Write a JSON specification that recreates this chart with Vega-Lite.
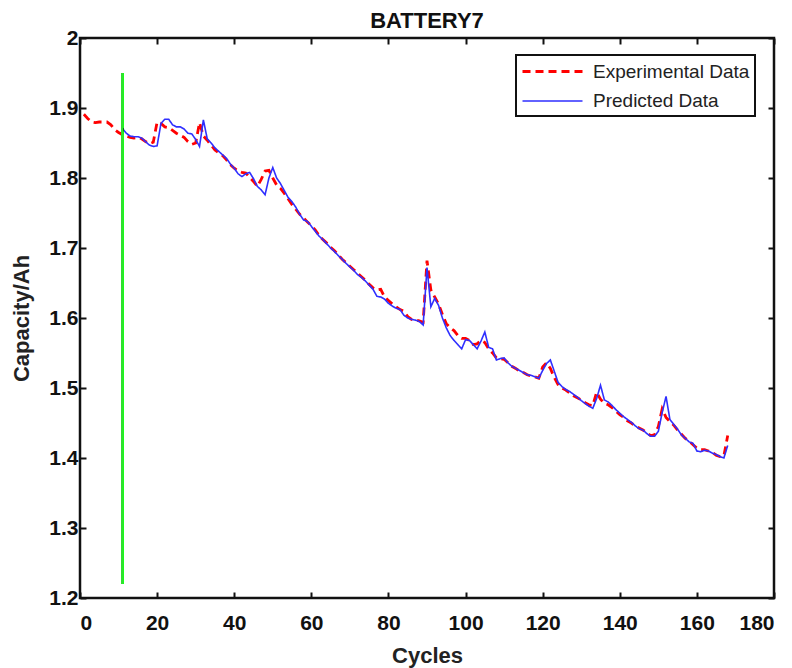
{
  "$schema": "https://vega.github.io/schema/vega-lite/v6.json",
  "width": 694,
  "height": 560,
  "autosize": {"type": "none"},
  "padding": {"left": 80, "top": 38, "right": 18, "bottom": 70},
  "background": "white",
  "title": {"text": "BATTERY7", "font": "Arial", "fontSize": 22, "fontWeight": "bold", "color": "#111", "anchor": "middle", "offset": -6},
  "config": {
    "view": {"stroke": "#111", "strokeWidth": 2.5},
    "legend": {"strokeColor": "#111", "strokeWidth": 2},
    "axis": {"grid": false, "domain": false, "labelFont": "Arial", "labelFontSize": 21, "labelFontWeight": "bold", "labelColor": "#111", "tickColor": "#111", "tickWidth": 2, "tickSize": -6, "titleFont": "Arial", "titleFontSize": 22, "titleFontWeight": "bold", "titleColor": "#222"}
  },
  "data": {"values": [
{"c":1,"exp":1.891},{"c":2,"exp":1.885},{"c":3,"exp":1.880},{"c":4,"exp":1.879},{"c":5,"exp":1.880},{"c":6,"exp":1.880},{"c":7,"exp":1.880},{"c":8,"exp":1.876},{"c":9,"exp":1.869},{"c":10,"exp":1.865},
{"c":11,"exp":1.862,"pred":1.871},{"c":12,"exp":1.860,"pred":1.864},{"c":13,"exp":1.858,"pred":1.860},{"c":14,"exp":1.857,"pred":1.859},{"c":15,"exp":1.858,"pred":1.859},{"c":16,"exp":1.856,"pred":1.857},{"c":17,"exp":1.852,"pred":1.852},{"c":18,"exp":1.849,"pred":1.847},{"c":19,"exp":1.851,"pred":1.845},{"c":20,"exp":1.880,"pred":1.846},
{"c":21,"exp":1.878,"pred":1.878},{"c":22,"exp":1.873,"pred":1.884},{"c":23,"exp":1.872,"pred":1.884},{"c":24,"exp":1.868,"pred":1.876},{"c":25,"exp":1.864,"pred":1.873},{"c":26,"exp":1.861,"pred":1.873},{"c":27,"exp":1.858,"pred":1.870},{"c":28,"exp":1.852,"pred":1.864},{"c":29,"exp":1.848,"pred":1.863},{"c":30,"exp":1.850,"pred":1.855},
{"c":31,"exp":1.879,"pred":1.845},{"c":32,"exp":1.860,"pred":1.883},{"c":33,"exp":1.854,"pred":1.856},{"c":34,"exp":1.847,"pred":1.850},{"c":35,"exp":1.840,"pred":1.843},{"c":36,"exp":1.836,"pred":1.838},{"c":37,"exp":1.832,"pred":1.833},{"c":38,"exp":1.826,"pred":1.828},{"c":39,"exp":1.819,"pred":1.820},{"c":40,"exp":1.814,"pred":1.814},
{"c":41,"exp":1.810,"pred":1.806},{"c":42,"exp":1.808,"pred":1.802},{"c":43,"exp":1.807,"pred":1.806},{"c":44,"exp":1.801,"pred":1.808},{"c":45,"exp":1.795,"pred":1.799},{"c":46,"exp":1.788,"pred":1.788},{"c":47,"exp":1.798,"pred":1.783},{"c":48,"exp":1.810,"pred":1.776},{"c":49,"exp":1.811,"pred":1.800},{"c":50,"exp":1.800,"pred":1.815},
{"c":51,"exp":1.790,"pred":1.800},{"c":52,"exp":1.785,"pred":1.792},{"c":53,"exp":1.778,"pred":1.782},{"c":54,"exp":1.770,"pred":1.772},{"c":55,"exp":1.762,"pred":1.766},{"c":56,"exp":1.755,"pred":1.758},{"c":57,"exp":1.748,"pred":1.748},{"c":58,"exp":1.743,"pred":1.740},{"c":59,"exp":1.737,"pred":1.738},{"c":60,"exp":1.732,"pred":1.731},
{"c":61,"exp":1.726,"pred":1.724},{"c":62,"exp":1.718,"pred":1.717},{"c":63,"exp":1.712,"pred":1.712},{"c":64,"exp":1.707,"pred":1.706},{"c":65,"exp":1.701,"pred":1.700},{"c":66,"exp":1.696,"pred":1.695},{"c":67,"exp":1.690,"pred":1.689},{"c":68,"exp":1.684,"pred":1.684},{"c":69,"exp":1.679,"pred":1.678},{"c":70,"exp":1.674,"pred":1.673},
{"c":71,"exp":1.669,"pred":1.668},{"c":72,"exp":1.664,"pred":1.662},{"c":73,"exp":1.659,"pred":1.658},{"c":74,"exp":1.654,"pred":1.653},{"c":75,"exp":1.648,"pred":1.647},{"c":76,"exp":1.643,"pred":1.641},{"c":77,"exp":1.640,"pred":1.631},{"c":78,"exp":1.641,"pred":1.630},{"c":79,"exp":1.630,"pred":1.627},{"c":80,"exp":1.625,"pred":1.621},
{"c":81,"exp":1.620,"pred":1.617},{"c":82,"exp":1.616,"pred":1.614},{"c":83,"exp":1.612,"pred":1.612},{"c":84,"exp":1.610,"pred":1.604},{"c":85,"exp":1.602,"pred":1.600},{"c":86,"exp":1.598,"pred":1.598},{"c":87,"exp":1.597,"pred":1.597},{"c":88,"exp":1.596,"pred":1.595},{"c":89,"exp":1.594,"pred":1.590},{"c":90,"exp":1.682,"pred":1.672},
{"c":91,"exp":1.640,"pred":1.616},{"c":92,"exp":1.630,"pred":1.628},{"c":93,"exp":1.620,"pred":1.618},{"c":94,"exp":1.605,"pred":1.600},{"c":95,"exp":1.592,"pred":1.586},{"c":96,"exp":1.586,"pred":1.575},{"c":97,"exp":1.582,"pred":1.568},{"c":98,"exp":1.575,"pred":1.562},{"c":99,"exp":1.571,"pred":1.556},{"c":100,"exp":1.571,"pred":1.569},
{"c":101,"exp":1.568,"pred":1.568},{"c":102,"exp":1.562,"pred":1.562},{"c":103,"exp":1.563,"pred":1.556},{"c":104,"exp":1.568,"pred":1.567},{"c":105,"exp":1.565,"pred":1.580},{"c":106,"exp":1.556,"pred":1.558},{"c":107,"exp":1.550,"pred":1.556},{"c":108,"exp":1.543,"pred":1.540},{"c":109,"exp":1.542,"pred":1.542},{"c":110,"exp":1.541,"pred":1.543},
{"c":111,"exp":1.536,"pred":1.536},{"c":112,"exp":1.531,"pred":1.531},{"c":113,"exp":1.528,"pred":1.528},{"c":114,"exp":1.524,"pred":1.525},{"c":115,"exp":1.522,"pred":1.522},{"c":116,"exp":1.519,"pred":1.519},{"c":117,"exp":1.517,"pred":1.518},{"c":118,"exp":1.516,"pred":1.516},{"c":119,"exp":1.514,"pred":1.514},{"c":120,"exp":1.530,"pred":1.525},
{"c":121,"exp":1.536,"pred":1.535},{"c":122,"exp":1.528,"pred":1.540},{"c":123,"exp":1.515,"pred":1.524},{"c":124,"exp":1.505,"pred":1.508},{"c":125,"exp":1.500,"pred":1.502},{"c":126,"exp":1.497,"pred":1.498},{"c":127,"exp":1.493,"pred":1.495},{"c":128,"exp":1.489,"pred":1.491},{"c":129,"exp":1.486,"pred":1.487},{"c":130,"exp":1.483,"pred":1.482},
{"c":131,"exp":1.479,"pred":1.478},{"c":132,"exp":1.476,"pred":1.474},{"c":133,"exp":1.475,"pred":1.471},{"c":134,"exp":1.494,"pred":1.485},{"c":135,"exp":1.484,"pred":1.504},{"c":136,"exp":1.478,"pred":1.483},{"c":137,"exp":1.476,"pred":1.480},{"c":138,"exp":1.472,"pred":1.475},{"c":139,"exp":1.467,"pred":1.469},{"c":140,"exp":1.462,"pred":1.464},
{"c":141,"exp":1.458,"pred":1.459},{"c":142,"exp":1.453,"pred":1.455},{"c":143,"exp":1.450,"pred":1.451},{"c":144,"exp":1.446,"pred":1.446},{"c":145,"exp":1.443,"pred":1.442},{"c":146,"exp":1.440,"pred":1.440},{"c":147,"exp":1.436,"pred":1.435},{"c":148,"exp":1.432,"pred":1.431},{"c":149,"exp":1.433,"pred":1.431},{"c":150,"exp":1.445,"pred":1.438},
{"c":151,"exp":1.470,"pred":1.465},{"c":152,"exp":1.458,"pred":1.488},{"c":153,"exp":1.452,"pred":1.455},{"c":154,"exp":1.447,"pred":1.448},{"c":155,"exp":1.440,"pred":1.441},{"c":156,"exp":1.434,"pred":1.433},{"c":157,"exp":1.428,"pred":1.428},{"c":158,"exp":1.424,"pred":1.423},{"c":159,"exp":1.419,"pred":1.421},{"c":160,"exp":1.414,"pred":1.410},
{"c":161,"exp":1.412,"pred":1.409},{"c":162,"exp":1.412,"pred":1.411},{"c":163,"exp":1.410,"pred":1.410},{"c":164,"exp":1.408,"pred":1.407},{"c":165,"exp":1.404,"pred":1.405},{"c":166,"exp":1.402,"pred":1.402},{"c":167,"exp":1.403,"pred":1.400},{"c":168,"exp":1.432,"pred":1.418}
  ]},
  "resolve": {"axis": {"x": "independent", "y": "independent"}},
  "layer": [
    {
      "transform": [
        {"fold": ["exp", "pred"], "as": ["series", "value"]},
        {"filter": "isValid(datum.value)"}
      ],
      "mark": {"type": "line", "interpolate": "linear"},
      "encoding": {
        "x": {"field": "c", "type": "quantitative", "scale": {"domain": [0, 180], "nice": false, "zero": false},
              "axis": {"orient": "bottom", "values": [0,20,40,60,80,100,120,140,160,180], "title": "Cycles", "labelPadding": 20, "titlePadding": 12}},
        "y": {"field": "value", "type": "quantitative", "scale": {"domain": [1.2, 2], "nice": false, "zero": false},
              "axis": {"orient": "left", "values": [1.2,1.3,1.4,1.5,1.6,1.7,1.8,1.9,2], "labelExpr": "datum.value == 2 ? '2' : format(datum.value, '.1f')", "title": "Capacity/Ah", "labelPadding": 8, "titlePadding": 15}},
        "color": {"field": "series", "type": "nominal",
                  "scale": {"domain": ["exp", "pred"], "range": ["#ff0000", "#2f2fff"]},
                  "legend": {"title": null, "orient": "none", "legendX": 436, "legendY": 17, "labelExpr": "datum.label == 'exp' ? 'Experimental Data' : 'Predicted Data'",
                             "labelFont": "Arial", "labelFontSize": 19, "labelFontWeight": "normal", "labelColor": "#222",
                             "symbolType": "M-1,0H5", "symbolSize": 400, "symbolStrokeWidth": 2.5, "labelOffset": 49,
                             "fillColor": "white", "padding": 5, "rowPadding": 8}},
        "strokeDash": {"field": "series", "type": "nominal",
                       "scale": {"domain": ["exp", "pred"], "range": [[8, 5], [1, 0]]},
                       "legend": {"title": null}},
        "strokeWidth": {"field": "series", "type": "nominal",
                        "scale": {"domain": ["exp", "pred"], "range": [2.8, 1.6]},
                        "legend": null}
      }
    },
    {
      "mark": {"type": "rule", "color": "#33dd33", "strokeWidth": 1.2},
      "encoding": {
        "x": {"datum": 11, "type": "quantitative", "axis": {"orient": "top", "values": [0,20,40,60,80,100,120,140,160,180], "labels": false, "title": null}},
        "y": {"datum": 1.22, "type": "quantitative", "axis": {"orient": "right", "values": [1.2,1.3,1.4,1.5,1.6,1.7,1.8,1.9,2], "labels": false, "title": null}},
        "y2": {"datum": 1.95}
      }
    }
  ]
}
